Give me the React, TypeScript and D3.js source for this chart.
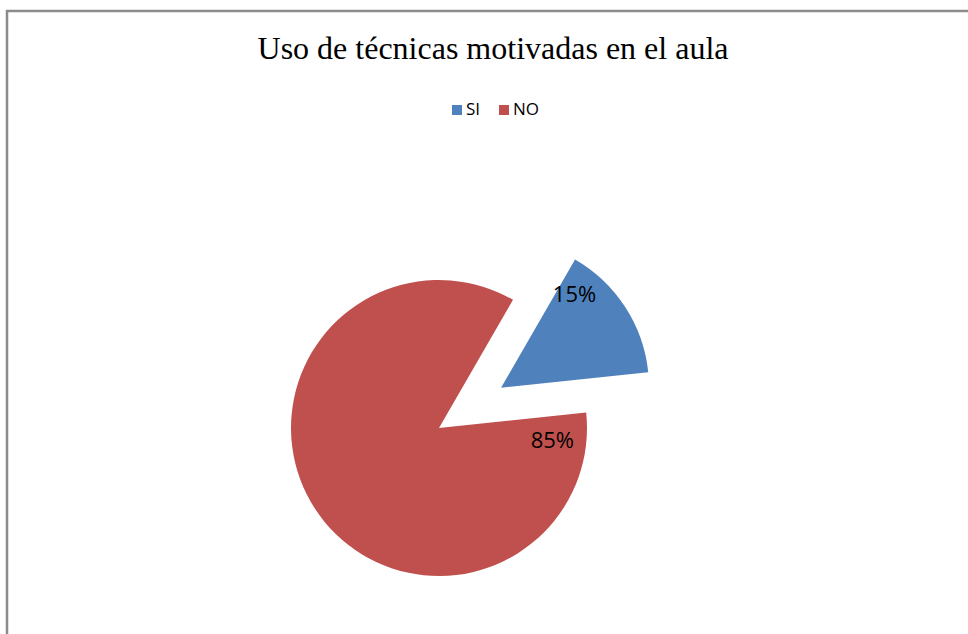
import { useEffect, useRef } from "react";
import * as d3 from "d3";

const categories = ["SI", "NO"];
const values = [15, 85];
const colors = ["#4F81BD", "#C0504D"];
const title = "Uso de técnicas motivadas en el aula";

function App() {
  const ref = useRef<SVGSVGElement>(null);

  useEffect(() => {
    const svg = d3.select(ref.current);
    svg.selectAll("*").remove();

    // chart frame (runs off the right and bottom edges)
    svg
      .append("rect")
      .attr("x", 7)
      .attr("y", 11)
      .attr("width", 1000)
      .attr("height", 700)
      .attr("fill", "#fff")
      .attr("stroke", "#8c8c8c")
      .attr("stroke-width", 2.5);

    svg
      .append("text")
      .attr("x", 493)
      .attr("y", 59)
      .attr("text-anchor", "middle")
      .attr("font-family", "'Liberation Serif', 'Times New Roman', serif")
      .attr("font-size", 32)
      .attr("fill", "#000")
      .text(title);

    // legend
    const legend = svg.append("g").attr("transform", "translate(452,105)");
    const legX = [0, 47];
    categories.forEach((c, i) => {
      const g = legend.append("g").attr("transform", `translate(${legX[i]},0)`);
      g.append("rect").attr("width", 10).attr("height", 10).attr("fill", colors[i]);
      g.append("text")
        .attr("x", 14)
        .attr("y", 10)
        .attr("font-family", "'Open Sans', 'Liberation Sans', sans-serif")
        .attr("font-size", 17)
        .attr("fill", "#000")
        .text(c);
    });

    const cx = 439;
    const cy = 428;
    const r = 148;
    const explode = 74;
    const start = (30 * Math.PI) / 180;

    const pie = d3
      .pie<number>()
      .sort(null)
      .startAngle(start)
      .endAngle(start + 2 * Math.PI)
      .value((d) => d);
    const arcs = pie(values);
    const arc = d3.arc<d3.PieArcDatum<number>>().innerRadius(0).outerRadius(r);

    // label angle shift and radius (Excel best-fit placement)
    const labelShift = [-0.33, 0.21];
    const labelR = [119, 114];

    const g = svg.append("g").attr("transform", `translate(${cx},${cy})`);
    arcs.forEach((a, i) => {
      const mid = (a.startAngle + a.endAngle) / 2;
      const off = i === 0 ? explode : 0;
      const dx = Math.sin(mid) * off;
      const dy = -Math.cos(mid) * off;
      const sg = g.append("g").attr("transform", `translate(${dx},${dy})`);
      sg.append("path").attr("d", arc(a) as string).attr("fill", colors[i]);
      const la = (i === 0 ? mid : a.startAngle) + labelShift[i];
      sg.append("text")
        .attr("x", Math.sin(la) * labelR[i])
        .attr("y", -Math.cos(la) * labelR[i])
        .attr("dy", "0.35em")
        .attr("text-anchor", "middle")
        .attr("font-family", "'Open Sans', 'Liberation Sans', sans-serif")
        .attr("font-size", 22)
        .attr("fill", "#000")
        .text(`${values[i]}%`);
    });
  }, []);

  return (
    <svg
      ref={ref}
      width={968}
      height={634}
      style={{ position: "absolute", left: 0, top: 0, background: "#fff" }}
    />
  );
}

export default App;
